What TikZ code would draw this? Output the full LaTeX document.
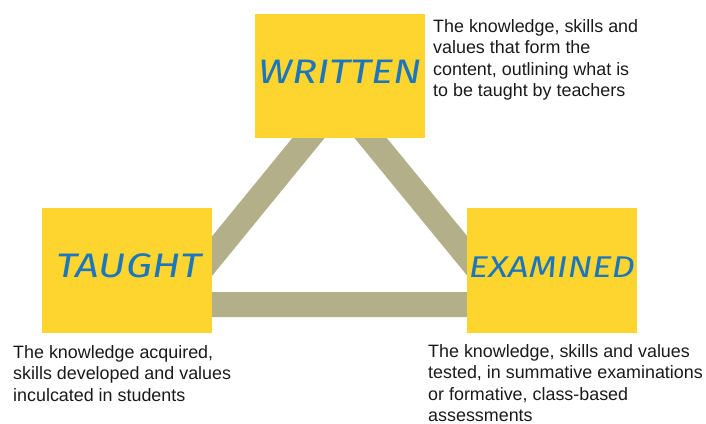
\documentclass[tikz,border=0pt]{standalone}
\usepackage{fontspec}
\setmainfont{Liberation Sans}
\newfontfamily\handfont{Fira Sans}
\definecolor{boxyellow}{HTML}{FED52E}
\definecolor{labelblue}{HTML}{1B76BE}
\definecolor{barolive}{HTML}{B3AF88}
\definecolor{txtgray}{HTML}{1A1A1A}
\tikzset{
  ybox/.style={fill=boxyellow, draw=none, minimum width=170pt, inner sep=0pt, anchor=north west},
  lbl/.style={text=labelblue, font=\handfont\itshape\fontsize{34}{34}\selectfont, inner sep=0pt, xscale=1.22},
  desc/.style={text=txtgray, font=\fontsize{17.9}{21.5}\selectfont, align=left, inner sep=0pt, anchor=base west},
  bar/.style={draw=barolive, line width=25pt, line join=miter}
}
\begin{document}
\begin{tikzpicture}[x=1pt,y=-1pt]
\useasboundingbox (0,0) rectangle (706,423);
% triangle vertices
\coordinate (vtop) at (339.5,100);
\coordinate (vleft) at (172.5,304.5);
\coordinate (vright) at (507,304.5);
\draw[bar] (vleft) -- (vtop) -- (vright) -- cycle;
% boxes
\node[ybox, minimum height=124pt] (written) at (255,14) {};
\node[ybox, minimum height=125pt] (taught) at (42,208) {};
\node[ybox, minimum height=125pt] (examined) at (467,208) {};
% labels
\node[lbl] (lw) at (340,72) {WRITTEN};
\node[lbl] (lt) at (129,266) {TAUGHT};
\node[lbl, font=\handfont\itshape\fontsize{30}{30}\selectfont] (le) at (552,267) {EXAMINED};
% descriptions (anchored at the baseline of the last line)
\node[desc] (dw) at (433,96.5) {The knowledge, skills and\\values that form the\\content, outlining what is\\to be taught by teachers};
\node[desc] (dt) at (13,401) {The knowledge acquired,\\skills developed and values\\inculcated in students};
\node[desc] (de) at (428,421.5) {The knowledge, skills and values\\tested, in summative examinations\\or formative, class-based\\assessments};
\end{tikzpicture}
\end{document}
